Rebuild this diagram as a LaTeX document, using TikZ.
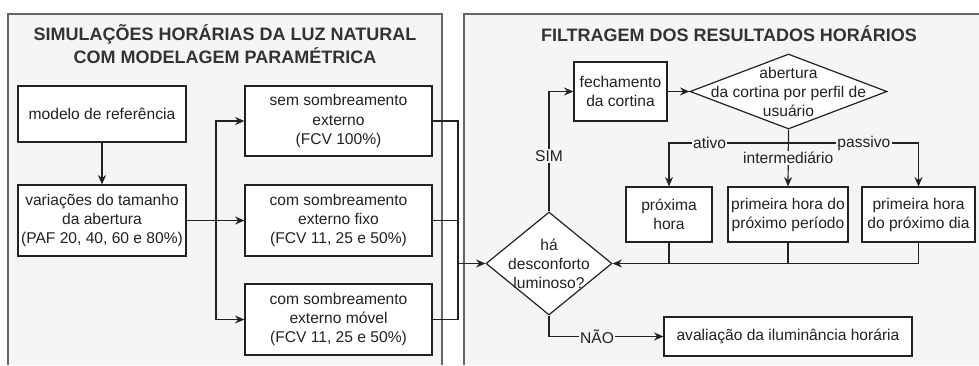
\documentclass[tikz,border=0pt]{standalone}
\usepackage{fontspec}
\setmainfont{Liberation Sans}
\usetikzlibrary{shapes.geometric,arrows.meta}
\definecolor{panelfill}{HTML}{F5F5F5}
\definecolor{panelline}{HTML}{666666}
\definecolor{titletext}{HTML}{333333}
\definecolor{inkline}{HTML}{222222}

\begin{document}
\begin{tikzpicture}
	[x=0.75pt, y=-0.75pt,
		containsText/.style	={font=\fontsize{11.7}{14.3}\selectfont
									, text=inkline
									},
		block/.style		={rectangle
									, containsText
									, draw=inkline
									, fill=white
									, line width=0.9pt
									, align=center
									, inner sep=1pt
									},
		decision/.style	={diamond
									, draw=inkline
									, fill=white
									, line width=0.9pt
									, inner sep=0pt
									},
		line/.style		 	={draw=inkline
									, line width=0.9pt
									, -{Stealth[length=7pt,width=6pt]}
									},
		tag/.style			={containsText
									, fill=panelfill
									, inner sep=1pt
									},
		heading/.style		={font=\bfseries\fontsize{13.5}{17.25}\selectfont
									, text=titletext
									, align=center
									}
	]
\useasboundingbox (0,0) rectangle (979,365);

% panels
\fill[panelfill] (8,14) rectangle (442,365);
\draw[panelline, line width=0.9pt] (8,365) -- (8,14) -- (442,14) -- (442,365);
\fill[panelfill] (464,14) rectangle (979,365);
\draw[panelline, line width=0.9pt] (464,365) -- (464,14) -- (979,14);

\node [heading] (title left)	at (225,44.5)	{SIMULAÇÕES HORÁRIAS DA LUZ NATURAL\\COM MODELAGEM PARAMÉTRICA};
\node [heading] (title right)	at (729,34)		{FILTRAGEM DOS RESULTADOS HORÁRIOS};

% left panel
\node [block, minimum width=126pt, minimum height=42pt] (ref)		at (102,114)		{modelo de referência};
\node [block, minimum width=126pt, minimum height=53.25pt] (var)	at (102,220.5)	{variações do tamanho\\da abertura\\(PAF 20, 40, 60 e 80\%)};
\node [block, minimum width=140.25pt, minimum height=52.5pt] (sem)	at (338.5,121)	{sem sombreamento\\externo\\(FCV 100\%)};
\node [block, minimum width=140.25pt, minimum height=53.25pt] (fixo)	at (338.5,220.5)	{com sombreamento\\externo fixo\\(FCV 11, 25 e 50\%)};
\node [block, minimum width=140.25pt, minimum height=53.25pt] (movel)	at (338.5,319.5)	{com sombreamento\\externo móvel\\(FCV 11, 25 e 50\%)};

% right panel
\node [block, minimum width=69.75pt, minimum height=44.25pt] (fech)	at (620.5,91.5)	{fechamento\\da cortina};
\node [decision, minimum width=147.75pt, minimum height=56.25pt] (abertura) at (788.5,91.5) {};
\node [containsText, align=center] (abertura text) at (abertura)	{abertura\\da cortina por perfil de\\usuário};
\node [block, minimum width=64.5pt, minimum height=41.25pt] (prox)	at (669,214.5)	{próxima\\hora};
\node [block, minimum width=90pt, minimum height=41.25pt] (periodo)	at (788,214.5)	{primeira hora do\\próximo período};
\node [block, minimum width=84.75pt, minimum height=41.25pt] (dia)	at (918.5,214.5)	{primeira hora\\do próximo dia};
\node [decision, minimum width=94.5pt, minimum height=77.25pt] (ha)	at (549,263.5)	{};
\node [containsText, align=center] (ha text) at (ha)	{há\\desconforto\\luminoso?};
\node [block, minimum width=186pt, minimum height=29.25pt] (aval)	at (788,336.5)	{avaliação da iluminância horária};

\coordinate (split) at (216,220.5);
\coordinate (merge) at (458,263.5);
\coordinate (fork)  at (788.5,143);

\begin{scope}[every path/.style=line]
	\path					(ref)				-- (var);
	\path	[-]			(var.east)		-- (split);
	\path					(split)			|- (sem.west);
	\path					(split)			-- (fixo.west);
	\path					(split)			|- (movel.west);
	\path	[-]			(sem.east)		-| (merge);
	\path	[-]			(fixo.east)		-| (merge);
	\path	[-]			(movel.east)	-| (merge);
	\path					(merge)			-- (ha.west);
	\path					(ha.north)		|- node [tag, pos=0.23] {SIM} (fech.west);
	\path					(fech)			-- (abertura);
	\path					(abertura.south)	-- node [tag] {intermediário} (periodo.north);
	\path					(fork)			-| node [tag, pos=0.33] {ativo} (prox.north);
	\path					(fork)			-| node [tag, pos=0.29] {passivo} (dia.north);
	\path	[-]			(prox.south)	|- (ha.east);
	\path	[-]			(periodo.south)	|- (ha.east);
	\path					(dia.south)		|- (ha.east);
	\path					(ha.south)		|- node [tag, pos=0.71] {NÃO} (aval.west);
\end{scope}
\end{tikzpicture}
\end{document}
